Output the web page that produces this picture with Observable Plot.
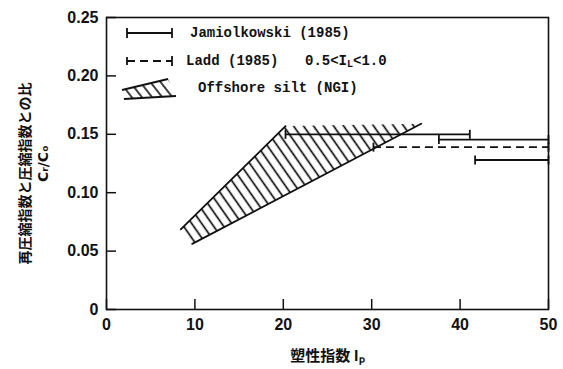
<!DOCTYPE html>
<html><head><meta charset="utf-8">
<script src="https://cdn.jsdelivr.net/npm/d3@7"></script>
<script src="https://cdn.jsdelivr.net/npm/@observablehq/plot@0.6"></script>
<style>
body{margin:0;background:#fff;}
#wrap{position:relative;width:563px;height:369px;background:#fff;}
#legend{position:absolute;left:0;top:0;pointer-events:none;}
</style></head><body><div id="wrap"></div>
<script>
// Axis ticks
const xTicks = [0, 10, 20, 30, 40, 50];
const yTicks = [0, 0.05, 0.10, 0.15, 0.20, 0.25];
// Offshore silt (NGI) hatched band: polygon vertices (upper-left, apex, right, lower-left)
const ngiX = [8.4, 20.25, 35.6, 9.7];
const ngiY = [0.0686, 0.157, 0.159, 0.0562];
// Jamiolkowski (1985) ranges (solid)
const jamX1 = [20.25, 37.6, 41.7];
const jamX2 = [41.1, 50, 50];
const jamY = [0.150, 0.1455, 0.128];
// Ladd (1985) range (dashed), 0.5 < IL < 1.0
const laddX1 = [30.2];
const laddX2 = [50];
const laddY = [0.139];
// Texts
const seriesNames = ["Jamiolkowski (1985)", "Ladd (1985)", "Offshore silt (NGI)"];
const laddNote = ["0.5<I", "L", "<1.0"];
const yLabel1 = "再圧縮指数と圧縮指数との比";
const yLabel2 = "Cᵣ/Cₒ";
const xLabel = "塑性指数 Iₚ";

const SVGNS = "http://www.w3.org/2000/svg";
const esc = s => s.replace(/&/g, "&amp;").replace(/</g, "&lt;").replace(/>/g, "&gt;");
function hatchDefs(id) {
  const defs = document.createElementNS(SVGNS, "defs");
  defs.innerHTML = `<pattern id="${id}" patternUnits="userSpaceOnUse" width="8.2" height="8.2" patternTransform="rotate(-35)"><line x1="4.1" y1="-1" x2="4.1" y2="9.2" stroke="#000" stroke-width="1.6"/></pattern>`;
  return defs;
}

const poly = ngiX.map((x, i) => ({x, y: ngiY[i]}));
const closed = [...poly, poly[0]];
const leftEdge = [poly[0], poly[1]];
const lowerEdge = [poly[3], poly[2]];
const jam = jamX1.map((x1, i) => ({x1, x2: jamX2[i], y: jamY[i]}));
const jamCaps = jam.flatMap(d => [{x: d.x1, y: d.y}, {x: d.x2, y: d.y}]);
const ladd = laddX1.map((x1, i) => ({x1, x2: laddX2[i], y: laddY[i]}));
const laddCaps = ladd.flatMap(d => [{x: d.x1, y: d.y}, {x: d.x2, y: d.y}]);
const vbar = {draw(ctx, size) { const h = Math.sqrt(size / Math.PI); ctx.moveTo(0, -h); ctx.lineTo(0, h); }};

const ink = "#111";
const tickFont = {fontFamily: "Liberation Sans, Arial, sans-serif", fontSize: 16, fontWeight: "bold"};

const chart = Plot.plot({
  width: 563, height: 369,
  marginLeft: 106, marginRight: 15, marginTop: 17, marginBottom: 60,
  x: {domain: [0, 50]},
  y: {domain: [0, 0.25]},
  style: {background: "#fff", color: ink},
  marks: [
    () => hatchDefs("hatch"),
    Plot.line(closed, {x: "x", y: "y", fill: "url(#hatch)", stroke: "none"}),
    Plot.line(leftEdge, {x: "x", y: "y", stroke: ink, strokeWidth: 1.8}),
    Plot.line(lowerEdge, {x: "x", y: "y", stroke: ink, strokeWidth: 1.8}),
    Plot.ruleY(jam, {x1: "x1", x2: "x2", y: "y", stroke: ink, strokeWidth: 1.8}),
    Plot.dot(jamCaps, {x: "x", y: "y", symbol: vbar, r: 4.5, stroke: ink, strokeWidth: 1.8}),
    Plot.ruleY(ladd, {x1: "x1", x2: "x2", y: "y", stroke: ink, strokeWidth: 1.8, strokeDasharray: "8,5"}),
    Plot.dot(laddCaps, {x: "x", y: "y", symbol: vbar, r: 4.5, stroke: ink, strokeWidth: 1.8}),
    Plot.frame({stroke: ink, strokeWidth: 1.6}),
    Plot.axisX({ticks: xTicks, tickSize: 0, tickPadding: 9, label: null, tickFormat: d3.format("d"), ...tickFont}),
    Plot.axisX({ticks: xTicks, tickSize: 10, dy: -10, text: null, label: null, strokeWidth: 1.5}),
    Plot.axisY({ticks: yTicks, tickSize: 0, tickPadding: 8, label: null, tickFormat: d => d === 0 ? "0" : d3.format(".2f")(d), ...tickFont}),
    Plot.axisY({ticks: yTicks, tickSize: 10, dx: 10, text: null, label: null, strokeWidth: 1.5}),
    Plot.text([yLabel1], {text: d => d, frameAnchor: "left", textAnchor: "middle", lineAnchor: "middle", rotate: -90, dx: -81, dy: 10,
      fontFamily: "Noto Sans CJK JP", fontSize: 14, fontWeight: "bold", fill: ink}),
    Plot.text([yLabel2], {text: d => d, frameAnchor: "left", textAnchor: "middle", lineAnchor: "middle", rotate: -90, dx: -63, dy: 0,
      fontFamily: "DejaVu Sans", fontSize: 14, fontWeight: "bold", fill: ink}),
    Plot.text([xLabel], {text: d => d, frameAnchor: "bottom", textAnchor: "middle", lineAnchor: "middle", dy: 47,
      fontFamily: "Noto Sans CJK JP", fontSize: 15, fontWeight: "bold", fill: ink})
  ]
});
const wrap = document.getElementById("wrap");
wrap.appendChild(chart);

// Legend overlay
const lg = document.createElementNS(SVGNS, "svg");
lg.setAttribute("id", "legend");
lg.setAttribute("width", 563);
lg.setAttribute("height", 120);
const mono = `font-family="Liberation Mono, DejaVu Sans Mono, monospace" font-size="14" font-weight="bold" fill="${ink}"`;
lg.innerHTML = `
<defs><pattern id="hatchL" patternUnits="userSpaceOnUse" width="8" height="8" patternTransform="rotate(-38)"><line x1="4" y1="-1" x2="4" y2="9" stroke="#000" stroke-width="1.5"/></pattern></defs>
<g stroke="${ink}" stroke-width="1.8">
  <line x1="127" y1="33" x2="172" y2="33"/><line x1="127" y1="28" x2="127" y2="38"/><line x1="172" y1="28" x2="172" y2="38"/>
  <line x1="127" y1="61" x2="172" y2="61" stroke-dasharray="8,5"/><line x1="127" y1="57" x2="127" y2="65"/><line x1="172" y1="56" x2="172" y2="66"/>
  <polygon points="122,90 168,79 176,96 124,99" fill="url(#hatchL)" stroke="none"/>
  <line x1="122" y1="90" x2="168" y2="79"/><line x1="124" y1="99" x2="176" y2="96"/>
</g>
<text x="190" y="33" dominant-baseline="middle" ${mono}>${esc(seriesNames[0])}</text>
<text x="186" y="61" dominant-baseline="middle" ${mono}>${esc(seriesNames[1])}</text>
<text x="305" y="61" dominant-baseline="middle" ${mono}>${esc(laddNote[0])}<tspan font-size="10" dy="3">${esc(laddNote[1])}</tspan><tspan dy="-3">${esc(laddNote[2])}</tspan></text>
<text x="198" y="88" dominant-baseline="middle" ${mono}>${esc(seriesNames[2])}</text>`;
wrap.appendChild(lg);
</script></body></html>
